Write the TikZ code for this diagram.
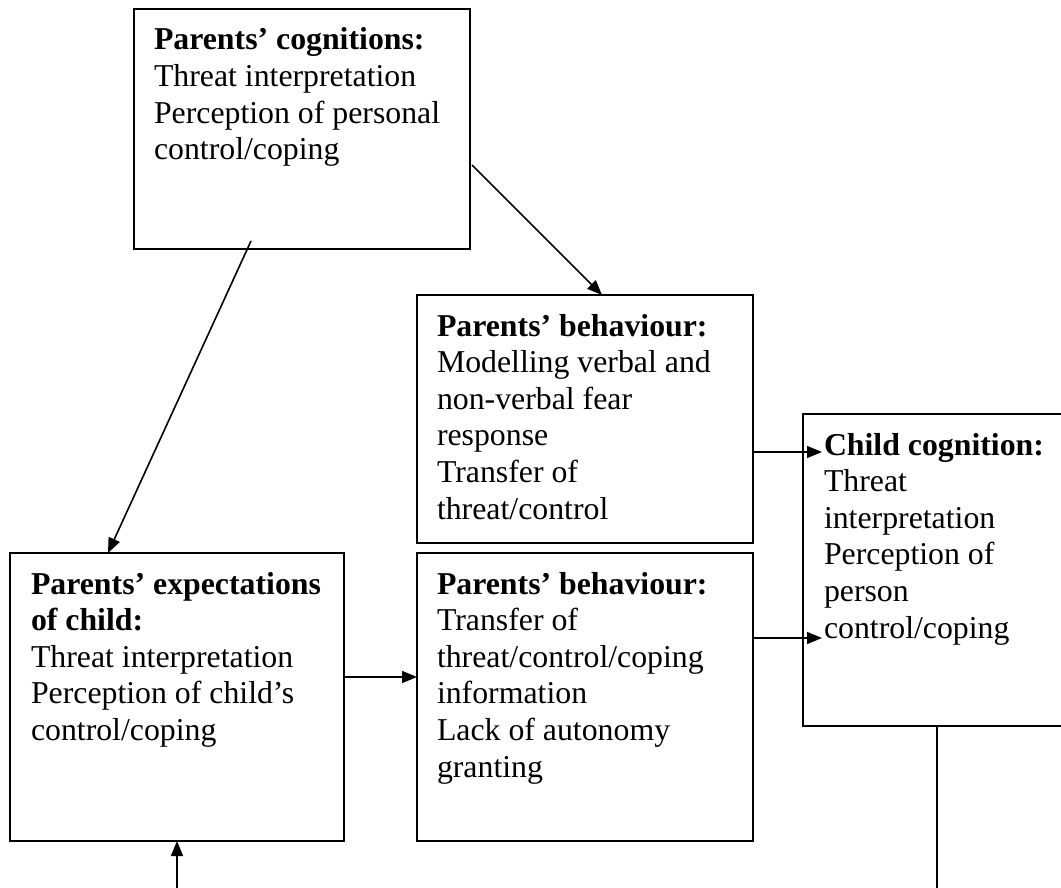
\documentclass[tikz,border=0pt]{standalone}
\usepackage{fontspec}
\setmainfont{Liberation Serif}
\usetikzlibrary{arrows.meta,calc}
\begin{document}
\begin{tikzpicture}[x=1pt,y=-1pt,
  box/.style={draw, line width=1.8pt, inner sep=0pt, outer sep=0pt, anchor=north west},
  txt/.style={anchor=north west, inner sep=0pt, outer sep=0pt, align=left,
    font=\fontsize{31.8pt}{36.6pt}\selectfont},
  conn/.style={line width=1.6pt, -{Triangle[length=15pt,width=12pt]}},
  plain/.style={line width=1.6pt}]

% page
\fill[white] (0,0) rectangle (1061,888);
\useasboundingbox (0,0) rectangle (1061,888);

% boxes
\node[box, minimum width=336pt, minimum height=240pt] (cog)   at (134,9)   {};
\node[box, minimum width=336pt, minimum height=248pt] (beh1)  at (417,295) {};
\node[box, minimum width=262pt, minimum height=312pt] (child) at (803,414) {};
\node[box, minimum width=334pt, minimum height=288pt] (exp)   at (10,553)  {};
\node[box, minimum width=336pt, minimum height=288pt] (beh2)  at (417,553) {};

% texts
\node[txt] (cogtxt) at ($(cog.north west)+(20,13)$)
  {\rule{0pt}{28pt}\textbf{Parents’ cognitions:}\\
   Threat interpretation\\
   Perception of personal\\
   control/coping};
\node[txt] (beh1txt) at ($(beh1.north west)+(20,13)$)
  {\rule{0pt}{28pt}\textbf{Parents’ behaviour:}\\
   Modelling verbal and\\
   non-verbal fear\\
   response\\
   Transfer of\\
   threat/control};
\node[txt] (childtxt) at ($(child.north west)+(21,13)$)
  {\rule{0pt}{28pt}\textbf{Child cognition:}\\
   Threat\\
   interpretation\\
   Perception of\\
   person\\
   control/coping};
\node[txt] (exptxt) at ($(exp.north west)+(21,13)$)
  {\rule{0pt}{28pt}\textbf{Parents’ expectations}\\
   \textbf{of child:}\\
   Threat interpretation\\
   Perception of child’s\\
   control/coping};
\node[txt] (beh2txt) at ($(beh2.north west)+(20,13)$)
  {\rule{0pt}{28pt}\textbf{Parents’ behaviour:}\\
   Transfer of\\
   threat/control/coping\\
   information\\
   Lack of autonomy\\
   granting};

% free ends at the lower page edge
\coordinate (inlet)  at (177,888);
\coordinate (outlet) at (937,888);

% connectors
\draw[conn] ($(cog.south west)+(117,-8)$) -- ($(exp.north west)+(98,0)$);
\draw[conn] ($(cog.north east)+(2,156)$) -- ($(beh1.north west)+(185,0)$);
\draw[conn] ($(beh1.north east)+(0,157)$) -- ($(child.north west)+(19,38)$);
\draw[conn] ($(beh2.north east)+(0,85)$) -- ($(child.north west)+(19,224)$);
\draw[conn] ($(exp.north east)+(0,124)$) -- ($(beh2.north west)+(0,124)$);
\draw[conn] (inlet) -- ($(exp.south west)+(167,0)$);
\draw[plain] ($(child.south west)+(134,0)$) -- (outlet);

\end{tikzpicture}
\end{document}
